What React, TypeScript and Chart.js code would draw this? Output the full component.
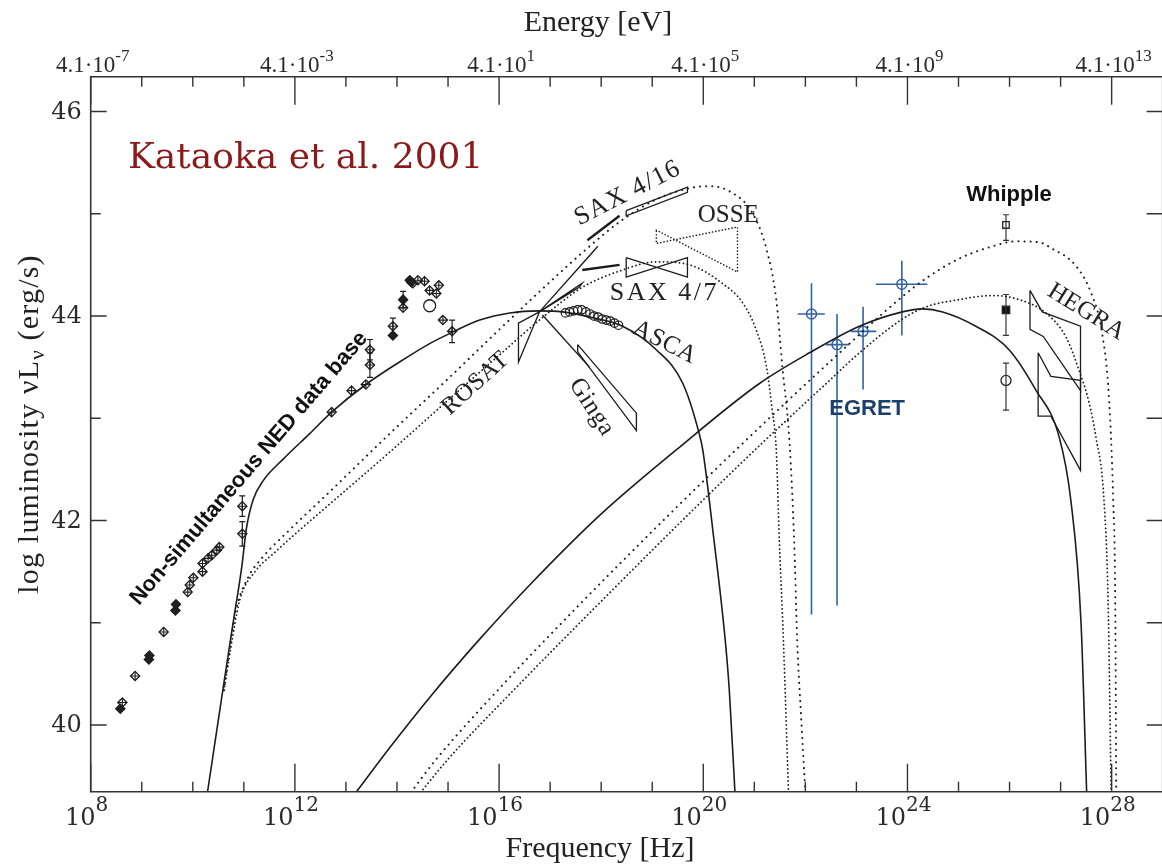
import React, { useEffect, useRef } from "react";
import { Chart, registerables } from "chart.js";

Chart.register(...registerables);

// ---------- axis ranges (log10 values) ----------
const X_MIN = 8;
const X_MAX = 29;
const Y_MIN = 39.348;
const Y_MAX = 46.34;

const freqTicks = [8, 9, 10, 11, 12, 13, 14, 15, 16, 17, 18, 19, 20, 21, 22, 23, 24, 25, 26, 27, 28, 29];
const freqMajor = [8, 12, 16, 20, 24, 28];
const freqExp = ["8", "12", "16", "20", "24", "28"];
const energyExp = ["-7", "-3", "1", "5", "9", "13"];
const lumTicks = [40, 41, 42, 43, 44, 45, 46];
const lumMajor = [40, 42, 44, 46];

// ---------- models ----------
const syncNu = [10.29, 10.6, 10.79, 10.96, 11.05, 11.18, 11.38, 11.77, 12.29, 12.72, 13.39, 14.05, 14.64, 15.08, 15.62, 16.21, 16.79, 17.24, 17.77, 18.42, 19.08, 19.6, 19.92, 19.99, 20.2, 20.43, 20.51, 20.62];
const syncL = [39.35, 40.38, 41.0, 41.55, 41.92, 42.2, 42.39, 42.6, 42.85, 43.06, 43.33, 43.55, 43.73, 43.84, 43.96, 44.03, 44.05, 44.04, 43.99, 43.9, 43.67, 43.34, 42.85, 42.69, 41.85, 40.83, 40.34, 39.35];

const icNu = [13.21, 13.86, 14.64, 15.62, 16.6, 17.97, 19.47, 21.1, 22.08, 23.06, 23.9, 24.3, 24.69, 25.34, 25.99, 26.51, 26.97, 27.2, 27.4, 27.51];
const icL = [39.35, 39.78, 40.27, 40.84, 41.37, 42.05, 42.69, 43.34, 43.64, 43.9, 44.04, 44.07, 44.04, 43.9, 43.67, 43.28, 42.82, 42.2, 41.0, 39.35];

const syncHiNu = [10.61, 10.84, 11.08, 11.35, 11.9, 12.68, 13.86, 15.03, 16.01, 16.99, 17.77, 18.36, 19.08, 19.73, 20.12, 20.51, 20.96, 21.24, 21.43, 21.55, 21.69, 21.78, 21.84, 21.92, 22.0];
const syncHiL = [40.34, 41.11, 41.44, 41.63, 41.91, 42.28, 42.85, 43.4, 43.87, 44.33, 44.68, 44.92, 45.14, 45.25, 45.27, 45.22, 45.01, 44.65, 44.16, 43.5, 42.76, 41.81, 40.83, 40.05, 39.34];

const syncLoNu = [10.61, 10.92, 11.22, 11.61, 12.1, 12.68, 13.86, 15.03, 16.01, 16.79, 17.63, 18.42, 19.08, 19.73, 20.37, 20.77, 21.04, 21.24, 21.35, 21.43, 21.49, 21.57, 21.67];
const syncLoL = [40.34, 41.22, 41.5, 41.69, 41.91, 42.16, 42.67, 43.19, 43.62, 43.96, 44.28, 44.45, 44.53, 44.5, 44.32, 44.13, 43.86, 43.5, 43.08, 42.69, 41.81, 40.83, 39.34];

const icHiNu = [14.27, 14.76, 16.01, 17.58, 19.54, 21.1, 22.41, 23.9, 24.37, 25.01, 25.66, 26.13, 26.58, 26.83, 27.3, 27.61, 27.81, 27.95, 28.03, 28.07, 28.09];
const icHiL = [39.34, 39.66, 40.36, 41.18, 42.16, 42.91, 43.52, 44.19, 44.37, 44.56, 44.68, 44.73, 44.72, 44.66, 44.49, 44.21, 43.84, 43.18, 42.2, 41.22, 39.34];

const icLoNu = [14.46, 14.99, 16.4, 18.16, 19.73, 21.16, 22.41, 23.06, 23.9, 24.37, 25.01, 25.66, 26.19, 26.71, 27.11, 27.36, 27.56, 27.69, 27.85, 27.93, 27.99];
const icLoL = [39.34, 39.66, 40.4, 41.29, 42.07, 42.76, 43.34, 43.64, 43.97, 44.09, 44.16, 44.2, 44.16, 44.03, 43.79, 43.47, 43.15, 42.82, 42.2, 41.22, 39.34];

// ---------- NED archival data ----------
const nedNu = [8.58, 8.62, 8.87, 9.14, 9.15, 9.43, 9.66, 9.67, 9.9, 9.94, 10.01, 10.19, 10.19, 10.3, 10.37, 10.47, 10.52, 10.97, 10.97, 12.72, 13.11, 13.39, 13.47, 13.47, 13.92, 13.92, 14.12, 14.12, 14.25, 14.28, 14.31, 14.41, 14.54, 14.64, 14.77, 14.82, 14.9, 15.08];
const nedL = [40.16, 40.22, 40.48, 40.64, 40.68, 40.91, 41.12, 41.18, 41.3, 41.37, 41.44, 41.5, 41.58, 41.63, 41.66, 41.71, 41.74, 42.14, 41.87, 43.06, 43.27, 43.33, 43.52, 43.67, 43.81, 43.9, 44.08, 44.16, 44.35, 44.33, 44.32, 44.35, 44.34, 44.25, 44.22, 44.3, 43.96, 43.85];
const nedErr = [0, 0, 0, 0, 0, 0, 0, 0, 0, 0, 0, 0, 0, 0, 0, 0, 0, 0.1, 0.12, 0, 0, 0, 0.12, 0.1, 0, 0.08, 0, 0.08, 0, 0, 0, 0, 0, 0, 0, 0, 0, 0.11];
const nedFilled = [1, 0, 0, 1, 1, 0, 1, 1, 0, 0, 0, 0, 0, 0, 0, 0, 0, 0, 0, 0, 0, 0, 0, 0, 1, 0, 0, 1, 1, 1, 0, 0, 0, 0, 0, 0, 0, 0];
const nedBigNu = [14.64];
const nedBigL = [44.1];

// ---------- ASCA ----------
const ascaNu = [17.3, 17.38, 17.46, 17.54, 17.62, 17.7, 17.78, 17.86, 17.94, 18.02, 18.1, 18.18, 18.26, 18.34];
const ascaL = [44.03, 44.04, 44.05, 44.06, 44.06, 44.04, 44.02, 44.0, 43.99, 43.97, 43.96, 43.95, 43.93, 43.91];

// ---------- X-ray bow-ties ----------
const rosatLeftNu = [16.79, 16.38, 16.38];
const rosatLeftL = [44.04, 43.93, 43.55];
const rosatRightNu = [16.79, 17.93, 17.81];
const rosatRightL = [44.04, 44.68, 44.61];
const rosat2Nu = [16.79, 17.63, 17.57];
const rosat2L = [44.04, 44.32, 44.28];
const gingaLineNu = [16.85, 17.77];
const gingaLineL = [44.01, 43.5];
const gingaBoxNu = [17.54, 18.69, 18.69, 17.54];
const gingaBoxL = [43.72, 43.05, 42.88, 43.65];
const sax16LineNu = [17.73, 18.36];
const sax16LineL = [44.74, 44.98];
const sax16BoxNu = [18.49, 19.69, 19.69, 18.49];
const sax16BoxL = [45.03, 45.26, 45.21, 44.98];
const sax7LineNu = [17.63, 18.36];
const sax7LineL = [44.45, 44.5];
const sax7BoxNu = [18.49, 19.69, 19.69, 18.49];
const sax7BoxL = [44.57, 44.38, 44.57, 44.38];
const osseNu = [19.08, 20.67, 20.67, 19.08];
const osseL = [44.84, 44.43, 44.87, 44.71];

// ---------- gamma rays ----------
const egretNu = [22.12, 22.62, 23.13, 23.89];
const egretL = [44.02, 43.72, 43.85, 44.31];
const egretNuLo = [21.85, 22.4, 22.89, 23.38];
const egretNuHi = [22.38, 22.86, 23.39, 24.39];
const egretLLo = [41.08, 41.17, 43.28, 43.81];
const egretLHi = [44.32, 44.02, 44.09, 44.54];

const tevNu = [25.93, 25.93, 25.93];
const tevL = [44.89, 44.06, 43.37];
const tevLLo = [44.74, 43.81, 43.08];
const tevLHi = [44.99, 44.21, 43.54];

const hegraANu = [26.4, 26.64, 27.39, 27.39, 26.66, 26.4];
const hegraAL = [44.25, 44.04, 43.9, 43.27, 43.8, 43.87];
const hegraBNu = [26.56, 26.81, 27.39, 27.39, 26.81, 26.56];
const hegraBL = [43.64, 43.41, 43.37, 42.49, 43.02, 43.02];

// ---------- annotations ----------
const SERIF = "'Liberation Serif', serif";
const SANS = "'Liberation Sans', Arial, sans-serif";
const notes = [
  { text: "Kataoka et al. 2001", x: 8.73, y: 45.447, angle: 0, font: "36px 'DejaVu Serif'", color: "#8b1a1a", align: "left", ls: 0 },
  { text: "Non-simultaneous NED data base", x: 11.1, y: 42.51, angle: -49.4, font: "bold 22px " + SANS, color: "#111", align: "center", ls: 0 },
  { text: "ROSAT", x: 15.54, y: 43.34, angle: -42, font: "25px " + SERIF, color: "#222", align: "center", ls: 0.5 },
  { text: "Ginga", x: 17.81, y: 43.11, angle: 57, font: "25px " + SERIF, color: "#222", align: "center", ls: 0.5 },
  { text: "ASCA", x: 19.24, y: 43.74, angle: 27, font: "25px " + SERIF, color: "#222", align: "center", ls: 0.5 },
  { text: "SAX 4/16", x: 18.52, y: 45.2, angle: -27, font: "26px " + SERIF, color: "#222", align: "center", ls: 1.4 },
  { text: "OSSE", x: 20.49, y: 44.98, angle: 0, font: "25px " + SERIF, color: "#222", align: "center", ls: 0 },
  { text: "SAX 4/7", x: 19.24, y: 44.22, angle: 0, font: "26px " + SERIF, color: "#222", align: "center", ls: 2.5 },
  { text: "Whipple", x: 25.99, y: 45.18, angle: 0, font: "bold 22px " + SANS, color: "#111", align: "center", ls: 0 },
  { text: "EGRET", x: 23.21, y: 43.09, angle: 0, font: "bold 22px " + SANS, color: "#1d3f6e", align: "center", ls: 0 },
  { text: "HEGRA", x: 27.5, y: 44.04, angle: 32, font: "25px " + SERIF, color: "#222", align: "center", ls: 0 },
];

const INK = "#1c1c1c";
const BLUE = "#3263a0";

function pts(xs: number[], ys: number[]) {
  return xs.map((x, i) => ({ x, y: ys[i] }));
}
function closedPts(xs: number[], ys: number[]) {
  return pts([...xs, xs[0]], [...ys, ys[0]]);
}
function curve(xs: number[], ys: number[], extra: any = {}) {
  return {
    data: pts(xs, ys),
    showLine: true,
    pointRadius: 0,
    borderColor: INK,
    borderWidth: 1.6,
    cubicInterpolationMode: "monotone",
    fill: false,
    ...extra,
  };
}
function straight(xs: number[], ys: number[], extra: any = {}) {
  return {
    data: pts(xs, ys),
    showLine: true,
    pointRadius: 0,
    borderColor: INK,
    borderWidth: 1.4,
    tension: 0,
    fill: false,
    ...extra,
  };
}
function shape(xs: number[], ys: number[], extra: any = {}) {
  return {
    data: closedPts(xs, ys),
    showLine: true,
    pointRadius: 0,
    borderColor: INK,
    borderWidth: 1.3,
    tension: 0,
    fill: false,
    ...extra,
  };
}
function seg(x1: number, y1: number, x2: number, y2: number, color: string, cap: number, width = 1.3) {
  return {
    data: [{ x: x1, y: y1 }, { x: x2, y: y2 }],
    showLine: true,
    borderColor: color,
    borderWidth: width,
    pointStyle: "line",
    pointRadius: cap,
    pointBorderColor: color,
    pointBorderWidth: width,
    pointBackgroundColor: color,
    tension: 0,
  };
}

function buildDatasets() {
  const sets: any[] = [];
  const SPARSE = [0.1, 6];
  const DENSE = [0.1, 3.9];
  sets.push(curve(syncNu, syncL));
  sets.push(curve(icNu, icL));
  sets.push(curve(syncHiNu, syncHiL, { borderDash: SPARSE, borderCapStyle: "round", borderWidth: 2 }));
  sets.push(curve(syncLoNu, syncLoL, { borderDash: DENSE, borderCapStyle: "round", borderWidth: 1.8 }));
  sets.push(curve(icHiNu, icHiL, { borderDash: SPARSE, borderCapStyle: "round", borderWidth: 2 }));
  sets.push(curve(icLoNu, icLoL, { borderDash: DENSE, borderCapStyle: "round", borderWidth: 1.8 }));

  // NED error bars
  nedNu.forEach((x, i) => {
    if (nedErr[i] > 0) sets.push(seg(x, nedL[i] - nedErr[i], x, nedL[i] + nedErr[i], INK, 3, 1.2));
  });
  // NED points: diamonds with inner cross
  sets.push({
    data: pts(nedNu, nedL),
    showLine: false,
    pointStyle: "rectRot",
    pointRadius: 4.6,
    pointBorderWidth: 1.3,
    pointBorderColor: INK,
    pointBackgroundColor: nedFilled.map((f) => (f ? "#222" : "rgba(255,255,255,0)")),
  });
  sets.push({
    data: pts(nedNu, nedL),
    showLine: false,
    pointStyle: "cross",
    pointRadius: 4.2,
    pointBorderWidth: 1.1,
    pointBorderColor: INK,
  });
  sets.push({
    data: pts(nedBigNu, nedBigL),
    showLine: false,
    pointStyle: "circle",
    pointRadius: 6,
    pointBorderWidth: 1.3,
    pointBorderColor: INK,
    pointBackgroundColor: "rgba(255,255,255,0)",
  });

  // ASCA
  sets.push({
    data: pts(ascaNu, ascaL),
    showLine: false,
    pointStyle: "circle",
    pointRadius: 4.2,
    pointBorderWidth: 1.2,
    pointBorderColor: INK,
    pointBackgroundColor: "rgba(255,255,255,0)",
  });

  // X-ray shapes
  sets.push(shape(rosatLeftNu, rosatLeftL));
  sets.push(shape(rosatRightNu, rosatRightL));
  sets.push(shape(rosat2Nu, rosat2L));
  sets.push(straight(gingaLineNu, gingaLineL));
  sets.push(shape(gingaBoxNu, gingaBoxL));
  sets.push(straight(sax16LineNu, sax16LineL, { borderWidth: 2.4 }));
  sets.push(shape(sax16BoxNu, sax16BoxL));
  sets.push(straight(sax7LineNu, sax7LineL, { borderWidth: 2.4 }));
  sets.push(shape(sax7BoxNu, sax7BoxL));
  sets.push(shape(osseNu, osseL, { borderDash: [0.1, 3.2], borderCapStyle: "round", borderWidth: 1.6 }));

  // EGRET crosses
  egretNu.forEach((x, i) => {
    sets.push(seg(x, egretLLo[i], x, egretLHi[i], BLUE, 0, 1.6));
    sets.push(seg(egretNuLo[i], egretL[i], egretNuHi[i], egretL[i], BLUE, 0, 1.6));
  });
  sets.push({
    data: pts(egretNu, egretL),
    showLine: false,
    pointStyle: "circle",
    pointRadius: 5,
    pointBorderWidth: 1.5,
    pointBorderColor: BLUE,
    pointBackgroundColor: "rgba(255,255,255,0)",
  });

  // TeV points
  tevNu.forEach((x, i) => {
    sets.push(seg(x, tevLLo[i], x, tevLHi[i], "#333", 3, 1.2));
  });
  sets.push({
    data: pts(tevNu, tevL),
    showLine: false,
    pointStyle: ["rect", "rect", "circle"],
    pointRadius: [4.6, 5.2, 5],
    pointBorderWidth: 1.3,
    pointBorderColor: "#222",
    pointBackgroundColor: ["#fff", "#111", "#fff"],
  });

  // HEGRA
  sets.push(shape(hegraANu, hegraAL));
  sets.push(shape(hegraBNu, hegraBL));
  return sets;
}

function supText(ctx: CanvasRenderingContext2D, base: string, exp: string, cx: number, baseY: number, baseFont: string, expFont: string, rise: number) {
  ctx.font = baseFont;
  const wb = ctx.measureText(base).width;
  ctx.font = expFont;
  const we = ctx.measureText(exp).width;
  const x0 = cx - (wb + we) / 2;
  ctx.textAlign = "left";
  ctx.textBaseline = "alphabetic";
  ctx.font = baseFont;
  ctx.fillText(base, x0, baseY);
  ctx.font = expFont;
  ctx.fillText(exp, x0 + wb, baseY - rise);
}

const framePlugin = {
  id: "sedFrame",
  afterDraw(chart: any) {
    const { ctx, chartArea: a, scales } = chart;
    const xs = scales.x;
    const ys = scales.y;
    ctx.save();
    ctx.strokeStyle = "#333";
    ctx.lineWidth = 1.6;
    ctx.beginPath();
    ctx.moveTo(a.left, a.top);
    ctx.lineTo(a.right, a.top);
    ctx.lineTo(a.right, a.bottom);
    ctx.lineTo(a.left, a.bottom);
    ctx.closePath();
    ctx.stroke();

    ctx.lineWidth = 1.4;
    ctx.beginPath();
    for (const v of freqTicks) {
      const px = xs.getPixelForValue(v);
      const major = freqMajor.includes(v);
      const len = major ? 28 : 10;
      ctx.moveTo(px, a.bottom);
      ctx.lineTo(px, a.bottom - len);
      ctx.moveTo(px, a.top);
      ctx.lineTo(px, a.top + len);
    }
    for (const v of lumTicks) {
      const py = ys.getPixelForValue(v);
      const major = lumMajor.includes(v);
      const len = major ? 16 : 10;
      ctx.moveTo(a.left, py);
      ctx.lineTo(a.left + len, py);
      ctx.moveTo(a.right, py);
      ctx.lineTo(a.right - 16, py);
    }
    ctx.stroke();

    // tick labels
    ctx.fillStyle = "#2a2a2a";
    freqMajor.forEach((v, i) => {
      const px = xs.getPixelForValue(v);
      supText(ctx, "10", freqExp[i], px - 4, 825, "24px 'DejaVu Serif'", "20px 'DejaVu Serif'", 14);
      supText(ctx, "4.1\u00b710", energyExp[i], px + 2, 72, "23px " + SERIF, "17px " + SERIF, 11);
    });
    ctx.font = "24px 'DejaVu Serif'";
    ctx.textAlign = "right";
    ctx.textBaseline = "middle";
    for (const v of lumMajor) {
      ctx.fillText(String(v), a.left - 9, ys.getPixelForValue(v) + 1);
    }

    // axis titles
    ctx.fillStyle = "#222";
    ctx.textAlign = "center";
    ctx.textBaseline = "alphabetic";
    ctx.font = "30px " + SERIF;
    ctx.fillText("Energy [eV]", 598, 31);
    ctx.fillText("Frequency [Hz]", 600, 857);

    // y title with subscript
    ctx.save();
    ctx.translate(28, 424);
    ctx.rotate(-Math.PI / 2);
    (ctx as any).letterSpacing = "1.2px";
    const f1 = "30px " + SERIF;
    const fsub = "21px " + SERIF;
    const parts: [string, string, number][] = [
      ["log luminosity \u03bdL", f1, 0],
      ["\u03bd", fsub, 6],
      [" (erg/s)", f1, 0],
    ];
    let total = 0;
    for (const [t, f] of parts) {
      ctx.font = f;
      total += ctx.measureText(t).width;
    }
    let cx = -total / 2;
    ctx.textAlign = "left";
    for (const [t, f, dy] of parts) {
      ctx.font = f;
      ctx.fillText(t, cx, 10 + dy);
      cx += ctx.measureText(t).width;
    }
    (ctx as any).letterSpacing = "0px";
    ctx.restore();

    // annotations
    for (const n of notes) {
      const px = xs.getPixelForValue(n.x);
      const py = ys.getPixelForValue(n.y);
      ctx.save();
      ctx.translate(px, py);
      ctx.rotate((n.angle * Math.PI) / 180);
      (ctx as any).letterSpacing = n.ls + "px";
      ctx.font = n.font;
      ctx.fillStyle = n.color;
      ctx.textAlign = n.align as CanvasTextAlign;
      ctx.textBaseline = n.align === "left" ? "alphabetic" : "middle";
      ctx.fillText(n.text, 0, 0);
      (ctx as any).letterSpacing = "0px";
      ctx.restore();
    }
    ctx.restore();
  },
};

export default function App() {
  const ref = useRef<HTMLCanvasElement>(null);
  useEffect(() => {
    const chart = new Chart(ref.current as HTMLCanvasElement, {
      type: "scatter",
      data: { datasets: buildDatasets() },
      options: {
        animation: false,
        responsive: false,
        events: [],
        layout: { padding: { left: 90.7, top: 76.7, right: 6.2, bottom: 74.3 } },
        plugins: { legend: { display: false }, tooltip: { enabled: false } },
        scales: {
          x: { type: "linear", min: X_MIN, max: X_MAX, display: false },
          y: { type: "linear", min: Y_MIN, max: Y_MAX, display: false },
        },
      },
      plugins: [framePlugin],
    } as any);
    return () => chart.destroy();
  }, []);
  return (
    <div style={{ position: "fixed", left: 0, top: 0, width: 1162, height: 866, overflow: "hidden", background: "#fff" }}>
      <canvas ref={ref} width={1170} height={866} style={{ display: "block", width: "1170px", height: "866px" }} />
    </div>
  );
}
